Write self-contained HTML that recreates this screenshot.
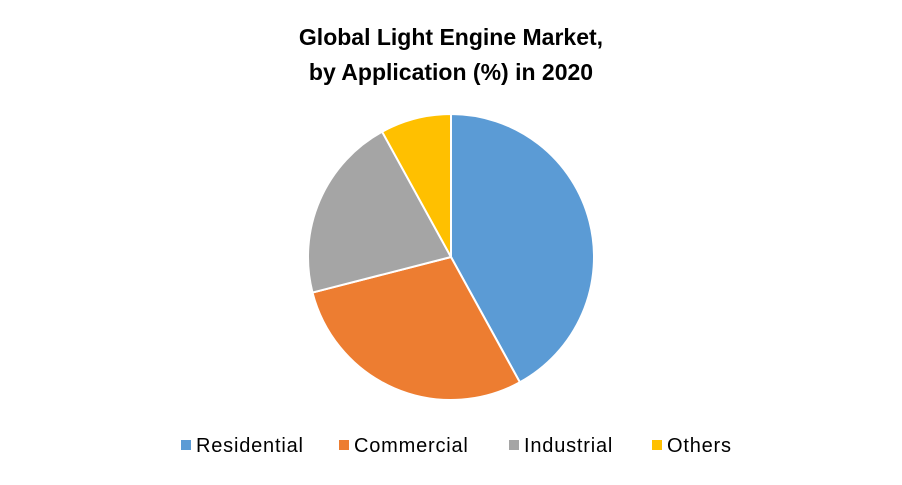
<!DOCTYPE html>
<html>
<head>
<meta charset="utf-8">
<style>
  html,body{margin:0;padding:0;background:#fff;}
  body{width:902px;height:480px;overflow:hidden;font-family:"Liberation Sans",sans-serif;}
</style>
</head>
<body>
<svg id="chart" width="902" height="480" viewBox="0 0 902 480">
  <text x="451" y="45" text-anchor="middle" font-family="Liberation Sans, sans-serif" font-weight="bold" font-size="23" fill="#000">Global Light Engine Market,</text>
  <text x="451" y="80" text-anchor="middle" font-family="Liberation Sans, sans-serif" font-weight="bold" font-size="23" fill="#000">by Application (%) in 2020</text>
  <g id="slices"></g>
  <g id="legend"></g>
</svg>
<script>
const categories = ["Residential", "Commercial", "Industrial", "Others"];
const values = [42, 29, 21, 8];
const colors = ["#5B9BD5", "#ED7D31", "#A5A5A5", "#FFC000"];

const cx = 451, cy = 257, r = 143;
const NS = "http://www.w3.org/2000/svg";
const total = values.reduce((a, b) => a + b, 0);
const slicesG = document.getElementById("slices");
let start = 0;
function pt(a) { return [cx + r * Math.sin(a), cy - r * Math.cos(a)]; }
values.forEach((v, i) => {
  const a0 = start / total * 2 * Math.PI;
  const a1 = (start + v) / total * 2 * Math.PI;
  start += v;
  const p0 = pt(a0), p1 = pt(a1);
  const large = (a1 - a0) > Math.PI ? 1 : 0;
  const path = document.createElementNS(NS, "path");
  path.setAttribute("d", `M${cx},${cy} L${p0[0]},${p0[1]} A${r},${r} 0 ${large} 1 ${p1[0]},${p1[1]} Z`);
  path.setAttribute("fill", colors[i]);
  path.setAttribute("stroke", "#fff");
  path.setAttribute("stroke-width", "2");
  
  
  slicesG.appendChild(path);
});

const legendG = document.getElementById("legend");
const legendX = [181, 339, 509, 652];
categories.forEach((c, i) => {
  const g = document.createElementNS(NS, "g");
  
  
  const rect = document.createElementNS(NS, "rect");
  rect.setAttribute("x", legendX[i]);
  rect.setAttribute("y", 440);
  rect.setAttribute("width", 10);
  rect.setAttribute("height", 10);
  rect.setAttribute("fill", colors[i]);
  const t = document.createElementNS(NS, "text");
  t.setAttribute("x", legendX[i] + 15);
  t.setAttribute("y", 452);
  t.setAttribute("font-size", "20");
  t.setAttribute("letter-spacing", "0.8");
  t.setAttribute("font-family", "Liberation Sans, sans-serif");
  t.setAttribute("fill", "#000");
  t.textContent = c;
  g.appendChild(rect);
  g.appendChild(t);
  legendG.appendChild(g);
});
</script>
</body>
</html>
